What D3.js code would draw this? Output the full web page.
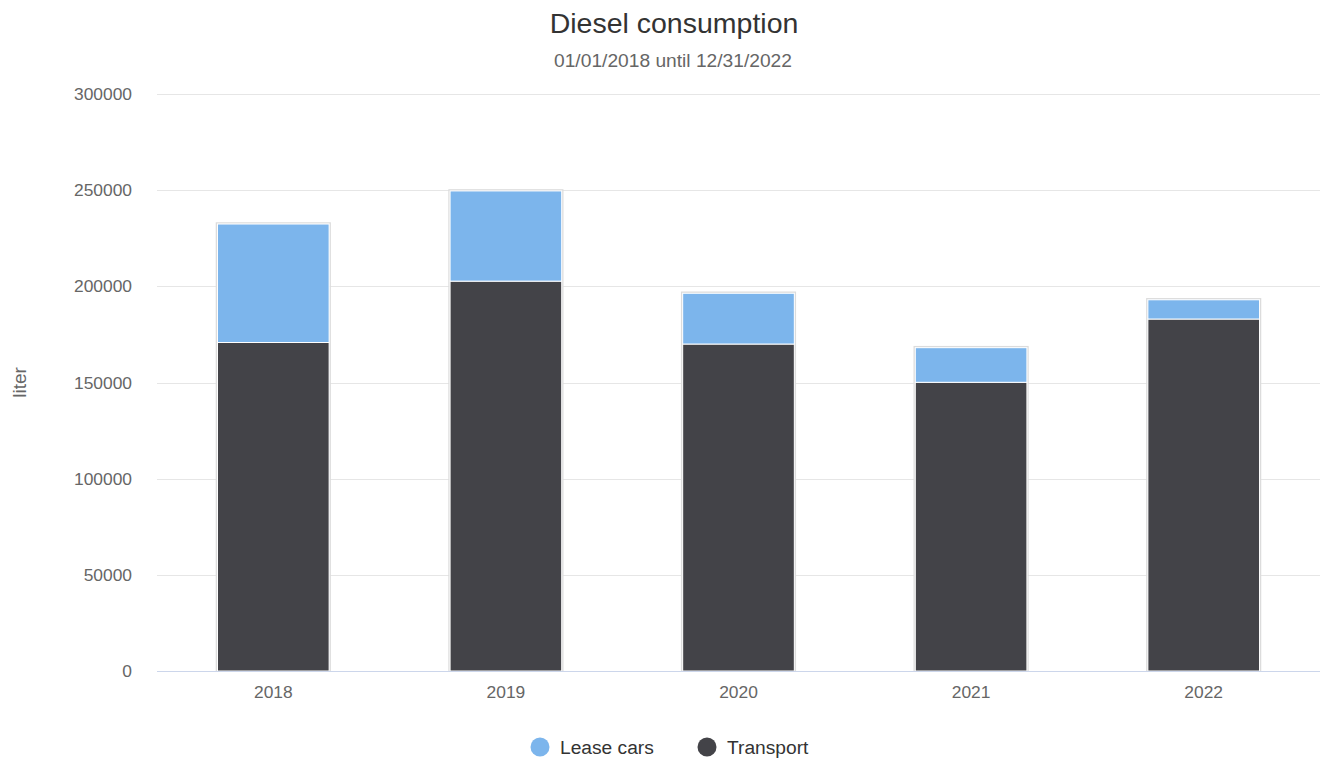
<!DOCTYPE html>
<html>
<head>
<meta charset="utf-8">
<script src="https://cdn.jsdelivr.net/npm/d3@7"></script>
<style>
  html, body { margin: 0; padding: 0; background: #fff; }
  svg { display: block; font-family: "Liberation Sans", Arial, sans-serif; }
</style>
</head>
<body>
<svg id="chart" width="1321" height="762"></svg>
<script>
const categories = ["2018", "2019", "2020", "2021", "2022"];
const transport = [170800, 202700, 170000, 150100, 183000];
const leaseCars = [61600, 46900, 26400, 18000, 10000];
const yTicks = [0, 50000, 100000, 150000, 200000, 250000, 300000];
const seriesNames = ["Lease cars", "Transport"];
const seriesColors = ["#7cb5ec", "#434348"];

const svg = d3.select("#chart");
const W = 1321, H = 762;
const m = { left: 157, right: 1, top: 94, bottom: 91 };

const x = d3.scaleBand().domain(categories).range([m.left, W - m.right]).paddingInner(0.52).paddingOuter(0.26);
const y = d3.scaleLinear().domain([0, 300000]).range([H - m.bottom, m.top]);

// Title
svg.append("text").attr("x", 674).attr("y", 33).attr("text-anchor", "middle")
  .attr("fill", "#333333").attr("font-size", 28.5).text("Diesel consumption");
svg.append("text").attr("x", 673).attr("y", 67).attr("text-anchor", "middle")
  .attr("fill", "#666666").attr("font-size", 19.2).text("01/01/2018 until 12/31/2022");

// Gridlines
const grid = svg.append("g");
grid.selectAll("line").data(yTicks.filter(t => t > 0)).join("line")
  .attr("x1", m.left).attr("x2", W - m.right)
  .attr("y1", d => Math.round(y(d)) + 0.5).attr("y2", d => Math.round(y(d)) + 0.5)
  .attr("stroke", "#e6e6e6").attr("stroke-width", 1);

// Y axis labels
const yAxis = d3.axisLeft(y).tickValues(yTicks).tickSize(0).tickPadding(0).tickFormat(d3.format("d"));
const ya = svg.append("g").attr("transform", `translate(${m.left - 25},0)`).call(yAxis);
ya.select(".domain").remove();
ya.selectAll("text").attr("fill", "#666666").attr("font-size", 17.4)
  .attr("font-family", '"Liberation Sans", Arial, sans-serif');

// Y axis title
svg.append("text").attr("transform", `translate(26,${(m.top + H - m.bottom) / 2}) rotate(-90)`)
  .attr("text-anchor", "middle").attr("fill", "#666666").attr("font-size", 19).text("liter");

// Stacked data
const rows = categories.map((c, i) => ({ cat: c, Transport: transport[i], "Lease cars": leaseCars[i] }));
const stack = d3.stack().keys(["Transport", "Lease cars"])(rows);

const bars = svg.append("g");
// outer shadow outline
bars.selectAll("rect.outline").data(rows).join("rect").attr("class", "outline")
  .attr("x", d => x(d.cat) - 1).attr("width", x.bandwidth() + 2)
  .attr("y", d => y(d.Transport + d["Lease cars"]) - 1)
  .attr("height", d => y(0) - y(d.Transport + d["Lease cars"]) + 1)
  .attr("fill", "none").attr("stroke", "#dcdcdc").attr("stroke-width", 1.5);

stack.forEach(layer => {
  const color = seriesColors[seriesNames.indexOf(layer.key)];
  bars.append("g").selectAll("rect").data(layer).join("rect")
    .attr("x", d => x(d.data.cat)).attr("width", x.bandwidth())
    .attr("y", d => y(d[1])).attr("height", d => y(d[0]) - y(d[1]))
    .attr("fill", color).attr("stroke", "#ffffff").attr("stroke-width", 1);
});

// X axis line
svg.append("line").attr("x1", m.left).attr("x2", W - m.right)
  .attr("y1", y(0) + 0.5).attr("y2", y(0) + 0.5).attr("stroke", "#ccd6eb");

const xAxis = d3.axisBottom(x).tickSize(0).tickPadding(0);
const xa = svg.append("g").attr("transform", `translate(0,${y(0) + 27})`).call(xAxis);
xa.select(".domain").remove();
xa.selectAll("text").attr("fill", "#666666").attr("font-size", 17.4).attr("dy", 0)
  .attr("font-family", '"Liberation Sans", Arial, sans-serif');

// Legend
const legendX = [540, 707];
const lg = svg.append("g");
seriesNames.forEach((name, i) => {
  lg.append("circle").attr("cx", legendX[i]).attr("cy", 747).attr("r", 9.5).attr("fill", seriesColors[i]);
  lg.append("text").attr("x", legendX[i] + 20).attr("y", 754).attr("fill", "#333333")
    .attr("font-size", 19.2).text(name);
});
</script>
</body>
</html>
